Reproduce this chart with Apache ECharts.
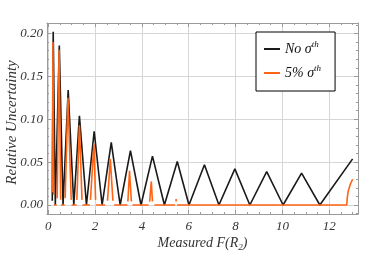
<!DOCTYPE html>
<html>
<head>
<meta charset="utf-8">
<script src="https://cdn.jsdelivr.net/npm/echarts@6/dist/echarts.min.js"></script>
<style>
html,body{margin:0;padding:0;background:#fff;}
#c{width:382px;height:253px;}
</style>
</head>
<body>
<div id="c"></div>
<script>
// ---- data ----
const seriesNames = ['No σth', '5% σth'];

// black curve: "No σ^th"
const noSigmaX = [0.17, 0.21, 0.30, 0.47, 0.63, 0.85, 1.09, 1.33, 1.63, 1.96, 2.30, 2.69, 3.07, 3.51, 3.96, 4.45, 4.96, 5.51, 6.01, 6.67, 7.29, 7.97, 8.61, 9.33, 10.03, 10.82, 11.60, 13.0];
const noSigmaY = [0.005, 0.202, 0.0, 0.186, 0.0, 0.134, 0.0, 0.104, 0.0, 0.086, 0.0, 0.073, 0.0, 0.0635, 0.0, 0.057, 0.0, 0.0507, 0.0, 0.047, 0.0, 0.0422, 0.0, 0.039, 0.0, 0.0372, 0.0, 0.0538];

// orange curve: "5% σ^th" (null = break in the line)
const fivePctX = [0.17, 0.20, 0.23, null, 0.24, 0.36, null, 0.38, 0.46, 0.53, null, 0.55, 0.70, null, 0.72, 0.84, 0.98, null, 1.00, 1.21, null, 1.22, 1.33, 1.44, null, 1.46, 1.78, null, 1.80, 1.95, 2.02, null, 2.04, 2.43, null, 2.53, 2.65, 2.76, null, 2.81, 3.38, null, 3.40, 3.47, 3.55, null, 3.60, 4.28, null, 4.33, 4.40, 4.45, null, 4.53, 5.42, null, 5.46, 5.46, null, 5.50, 12.75, 12.77, 12.81, 12.90, 13.0];
const fivePctY = [0.015, 0.190, 0.012, null, 0.0, 0.0, null, 0.008, 0.181, 0.006, null, 0.0, 0.0, null, 0.008, 0.125, 0.006, null, 0.0, 0.0, null, 0.006, 0.093, 0.006, null, 0.0, 0.0, null, 0.006, 0.0713, 0.006, null, 0.0, 0.0, null, 0.005, 0.0535, 0.005, null, 0.0, 0.0, null, 0.004, 0.040, 0.004, null, 0.0, 0.0, null, 0.004, 0.0275, 0.004, null, 0.0, 0.0, null, 0.004, 0.007, null, 0.0, 0.0, 0.008, 0.016, 0.024, 0.030];

// axes
const xRange = [-0.055, 13.23];
const yRange = [-0.0105, 0.2123];
const xTickStep = 2;
const yTickStep = 0.05;

// ---- build ----
function pairs(xs, ys) { return xs.map((x, i) => [x, ys[i]]); }
function segments(xs, ys) {
  const segs = []; let cur = [];
  xs.forEach((x, i) => {
    if (x === null) { if (cur.length) segs.push(cur); cur = []; }
    else cur.push([x, ys[i]]);
  });
  if (cur.length) segs.push(cur);
  return segs;
}

const FONT = 'Liberation Serif';
const frameColor = '#9a9a9a';
const gridColor = '#d6d6d6';
const black = '#1a1a1a';
const orange = '#ff6414';

const frameAxis = {
  axisLine: { show: true, onZero: false, lineStyle: { color: frameColor, width: 1 } },
  axisTick: { show: true, inside: true, length: 4, lineStyle: { color: frameColor } },
  minorTick: { show: true, splitNumber: 4, length: 2, lineStyle: { color: frameColor } }
};

const series = [{
  name: seriesNames[0], type: 'line', data: pairs(noSigmaX, noSigmaY),
  showSymbol: false, symbol: 'none', lineStyle: { color: black, width: 1.6 }, itemStyle: { color: black },
  z: 2
}];
segments(fivePctX, fivePctY).forEach(seg => {
  series.push({
    name: seriesNames[1], type: 'line', data: seg, showSymbol: false, symbol: 'none',
    lineStyle: { color: orange, width: 1.6 }, itemStyle: { color: orange }, z: 3
  });
});

const chart = echarts.init(document.getElementById('c'), null, { renderer: 'canvas' });
chart.setOption({
  animation: false,
  backgroundColor: '#fff',
  grid: { left: 47, right: 24, top: 23, bottom: 39, containLabel: false, outerBoundsMode: 'none' },
  xAxis: [{
    type: 'value', position: 'bottom', min: xRange[0], max: xRange[1],
    minInterval: xTickStep, maxInterval: xTickStep, splitNumber: 7,
    ...frameAxis,
    minorTick: { show: true, splitNumber: 4, length: 2, lineStyle: { color: frameColor } },
    splitLine: { show: true, lineStyle: { color: gridColor, width: 1 } },
    axisLabel: { showMinLabel: false, showMaxLabel: false, margin: 6, color: '#333', fontFamily: FONT, fontStyle: 'italic', fontSize: 13 },
    name: '{a|Measured }{a|F}{a|(}{a|R}{s|2}{a|)}',
    nameLocation: 'middle', nameGap: 20, nameMoveOverlap: false,
    nameTextStyle: {
      color: '#333',
      rich: {
        a: { fontFamily: FONT, fontStyle: 'italic', fontSize: 14, color: '#333', lineHeight: 18 },
        s: { fontFamily: FONT, fontStyle: 'italic', fontSize: 9, color: '#333', verticalAlign: 'bottom', lineHeight: 12 }
      }
    }
  }, {
    type: 'value', position: 'top', min: xRange[0], max: xRange[1],
    minInterval: xTickStep, maxInterval: xTickStep, splitNumber: 7,
    ...frameAxis,
    splitLine: { show: false }, axisLabel: { show: false }
  }],
  yAxis: [{
    type: 'value', position: 'left', min: yRange[0], max: yRange[1],
    minInterval: yTickStep, maxInterval: yTickStep, splitNumber: 5,
    ...frameAxis,
    minorTick: { show: true, splitNumber: 5, length: 2, lineStyle: { color: frameColor } },
    splitLine: { show: true, lineStyle: { color: gridColor, width: 1 } },
    axisLabel: { showMinLabel: false, showMaxLabel: false, margin: 4, color: '#333', fontFamily: FONT, fontStyle: 'italic', fontSize: 13,
      formatter: v => v.toFixed(2) },
    name: 'Relative Uncertainty', nameLocation: 'middle', nameGap: 27, nameRotate: 90, nameMoveOverlap: false,
    nameTextStyle: { fontFamily: FONT, fontStyle: 'italic', fontSize: 15, color: '#333', padding: [0, 8, 0, 0] }
  }, {
    type: 'value', position: 'right', min: yRange[0], max: yRange[1],
    minInterval: yTickStep, maxInterval: yTickStep, splitNumber: 5,
    ...frameAxis,
    minorTick: { show: true, splitNumber: 5, length: 2, lineStyle: { color: frameColor } },
    splitLine: { show: false }, axisLabel: { show: false }
  }],
  legend: {
    data: seriesNames,
    orient: 'vertical', left: 256, top: 32,
    backgroundColor: '#fff', borderColor: '#000', borderWidth: 1, borderRadius: 0,
    padding: [8, 14, 11, 8], itemGap: 8, itemWidth: 16, itemHeight: 2, icon: 'rect',
    textStyle: {
      color: '#111', fontFamily: FONT, fontStyle: 'italic', fontSize: 14,
      rich: {
        t: { fontFamily: FONT, fontStyle: 'italic', fontSize: 14, color: '#111', lineHeight: 18 },
        s: { fontFamily: FONT, fontStyle: 'italic', fontSize: 9, color: '#111', verticalAlign: 'top', lineHeight: 10 }
      }
    },
    formatter: n => n === seriesNames[0] ? '{t|No σ}{s|th}' : '{t|5% σ}{s|th}'
  },
  series: series
});
</script>
</body>
</html>
